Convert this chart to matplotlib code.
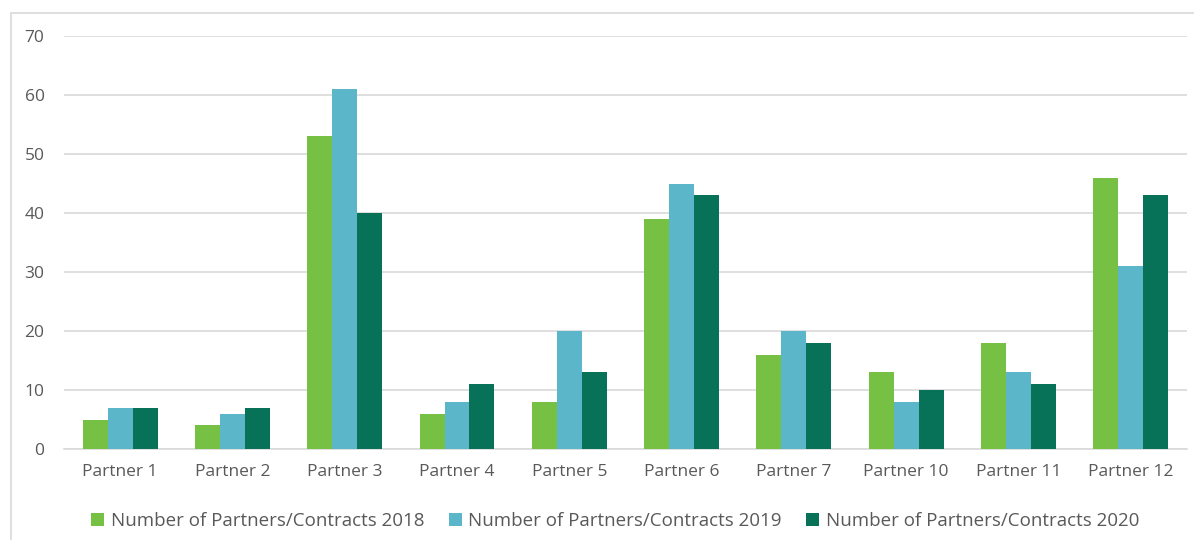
import matplotlib.pyplot as plt
import numpy as np
from matplotlib.patches import Rectangle

partners = ["Partner 1", "Partner 2", "Partner 3", "Partner 4", "Partner 5",
            "Partner 6", "Partner 7", "Partner 10", "Partner 11", "Partner 12"]
contracts_2018 = [5, 4, 53, 6, 8, 39, 16, 13, 18, 46]
contracts_2019 = [7, 6, 61, 8, 20, 45, 20, 8, 13, 31]
contracts_2020 = [7, 7, 40, 11, 13, 43, 18, 10, 11, 43]
series_labels = ["Number of Partners/Contracts 2018",
                 "Number of Partners/Contracts 2019",
                 "Number of Partners/Contracts 2020"]
colors = ["#76c044", "#5ab6c8", "#077257"]


def main():
    plt.rcParams['font.family'] = ['Open Sans', 'DejaVu Sans']
    fig = plt.figure(figsize=(11.94, 5.4), dpi=100)
    ax = fig.add_axes([0.0536, 0.1685, 0.9404, 0.7648])

    # light frame around the chart area
    fig.patches.append(Rectangle((11 / 1194, -0.05), 1.1, 1 - 13 / 540 + 0.05,
                                 transform=fig.transFigure, fill=False,
                                 edgecolor="#d9d9d9", linewidth=1.2))

    x = np.arange(len(partners))
    width = 0.222
    for i, values in enumerate([contracts_2018, contracts_2019, contracts_2020]):
        ax.bar(x + (i - 1) * width, values, width, color=colors[i],
               label=series_labels[i], zorder=3)

    ax.set_xlim(-0.5, len(partners) - 0.5)
    ax.set_ylim(0, 70)
    ax.set_yticks(range(0, 71, 10))
    ax.set_xticks(x)
    ax.set_xticklabels(partners)
    ax.grid(axis="y", color="#d9d9d9", linewidth=1.2, zorder=0)
    for side in ["top", "right", "left"]:
        ax.spines[side].set_visible(False)
    ax.spines["bottom"].set_color("#d9d9d9")
    ax.spines["bottom"].set_linewidth(1.2)
    ax.tick_params(length=0, labelsize=12.5, colors="#595959")
    ax.tick_params(axis="x", pad=11)
    ax.tick_params(axis="y", pad=14)

    leg = ax.legend(loc="upper center", bbox_to_anchor=(0.491, -0.112), ncol=3,
                    frameon=False, fontsize=13.5, handlelength=0.7, handleheight=0.7,
                    handletextpad=0.35, columnspacing=1.3)
    for t in leg.get_texts():
        t.set_color("#595959")

    plt.savefig("out.png", dpi=100)


if __name__ == '__main__':
    main()
